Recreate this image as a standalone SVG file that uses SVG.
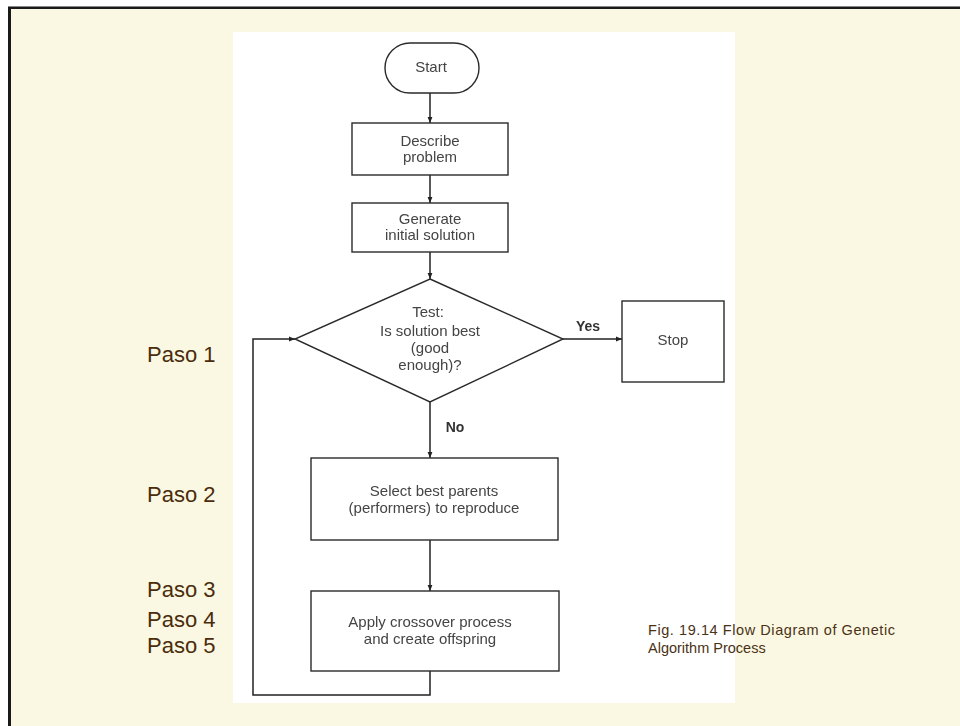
<svg xmlns="http://www.w3.org/2000/svg" width="960" height="726" viewBox="0 0 960 726">
  <defs>
    <marker id="arrow" viewBox="0 0 10 10" refX="10" refY="5" markerWidth="6" markerHeight="6" orient="auto" markerUnits="userSpaceOnUse">
      <path d="M0,1 L10,5 L0,9 Z" fill="#222"/>
    </marker>
    <filter id="soft" x="-5%" y="-5%" width="110%" height="110%">
      <feGaussianBlur stdDeviation="0.45"/>
    </filter>
  </defs>
  <style>
    .box { fill: #ffffff; stroke: #2a2a2a; stroke-width: 1.4; }
    .conn { fill: none; stroke: #222; stroke-width: 1.5; }
    .lbl { font-family: "Liberation Sans", Arial, sans-serif; font-size: 15px; fill: #444; text-anchor: middle; }
    .bold { font-weight: bold; font-size: 14px; fill: #333; }
    .paso { font-family: "Liberation Sans", Arial, sans-serif; font-size: 22px; fill: #4a2c0c; }
    .cap { font-family: "Liberation Sans", Arial, sans-serif; font-size: 14.5px; fill: #4a3216; }
  </style>

  <!-- slide background and frame -->
  <rect x="0" y="0" width="960" height="726" fill="#ffffff"/>
  <rect x="10" y="8" width="950" height="718" fill="#faf8e2"/>
  <path d="M9.5,726 V7.5 H960" fill="none" stroke="#1a1a1a" stroke-width="3"/>
  <path d="M8,6.5 H960" fill="none" stroke="#888" stroke-width="1"/>

  <!-- scanned figure area -->
  <rect x="233" y="32" width="502" height="671" fill="#ffffff"/>

  <g filter="url(#soft)">
    <!-- connectors -->
    <g id="connectors">
      <line class="conn" x1="430" y1="93" x2="430" y2="123" marker-end="url(#arrow)"/>
      <line class="conn" x1="430" y1="175" x2="430" y2="203" marker-end="url(#arrow)"/>
      <line class="conn" x1="430" y1="252" x2="430" y2="279" marker-end="url(#arrow)"/>
      <line class="conn" x1="563" y1="339" x2="622" y2="339" marker-end="url(#arrow)"/>
      <line class="conn" x1="430" y1="402" x2="430" y2="458" marker-end="url(#arrow)"/>
      <line class="conn" x1="430" y1="540" x2="430" y2="591" marker-end="url(#arrow)"/>
      <path class="conn" d="M430,671 V695 H253 V339 H295" marker-end="url(#arrow)"/>
      <text class="lbl bold" x="588" y="331">Yes</text>
      <text class="lbl bold" x="455" y="432">No</text>
    </g>

    <g id="start">
      <rect class="box" x="385" y="43" width="94" height="50" rx="25" ry="25"/>
      <text class="lbl" x="431" y="72">Start</text>
    </g>

    <g id="describe">
      <rect class="box" x="352" y="123" width="156" height="52"/>
      <text class="lbl" x="430" y="146">Describe</text>
      <text class="lbl" x="430" y="162">problem</text>
    </g>

    <g id="generate">
      <rect class="box" x="352" y="203" width="156" height="49"/>
      <text class="lbl" x="430" y="224">Generate</text>
      <text class="lbl" x="430" y="240">initial solution</text>
    </g>

    <g id="test">
      <polygon class="box" points="430,279 563,339 430,402 295,339"/>
      <text class="lbl" x="428" y="317">Test:</text>
      <text class="lbl" x="430" y="336">Is solution best</text>
      <text class="lbl" x="430" y="353">(good</text>
      <text class="lbl" x="430" y="370">enough)?</text>
    </g>

    <g id="stop">
      <rect class="box" x="622" y="301" width="102" height="81"/>
      <text class="lbl" x="673" y="345">Stop</text>
    </g>

    <g id="select">
      <rect class="box" x="311" y="458" width="247" height="82"/>
      <text class="lbl" x="434" y="496">Select best parents</text>
      <text class="lbl" x="434" y="513">(performers) to reproduce</text>
    </g>

    <g id="crossover">
      <rect class="box" x="311" y="591" width="248" height="80"/>
      <text class="lbl" x="430" y="627">Apply crossover process</text>
      <text class="lbl" x="430" y="644">and create offspring</text>
    </g>
  </g>

  <!-- step labels -->
  <g id="steps">
    <text class="paso" x="147" y="362">Paso 1</text>
    <text class="paso" x="147" y="502">Paso 2</text>
    <text class="paso" x="147" y="597">Paso 3</text>
    <text class="paso" x="147" y="627">Paso 4</text>
    <text class="paso" x="147" y="653">Paso 5</text>
  </g>

  <!-- caption -->
  <g id="caption">
    <text class="cap" x="648" y="635" textLength="247" lengthAdjust="spacing">Fig. 19.14 Flow Diagram of Genetic</text>
    <text class="cap" x="648" y="653">Algorithm Process</text>
  </g>
</svg>
